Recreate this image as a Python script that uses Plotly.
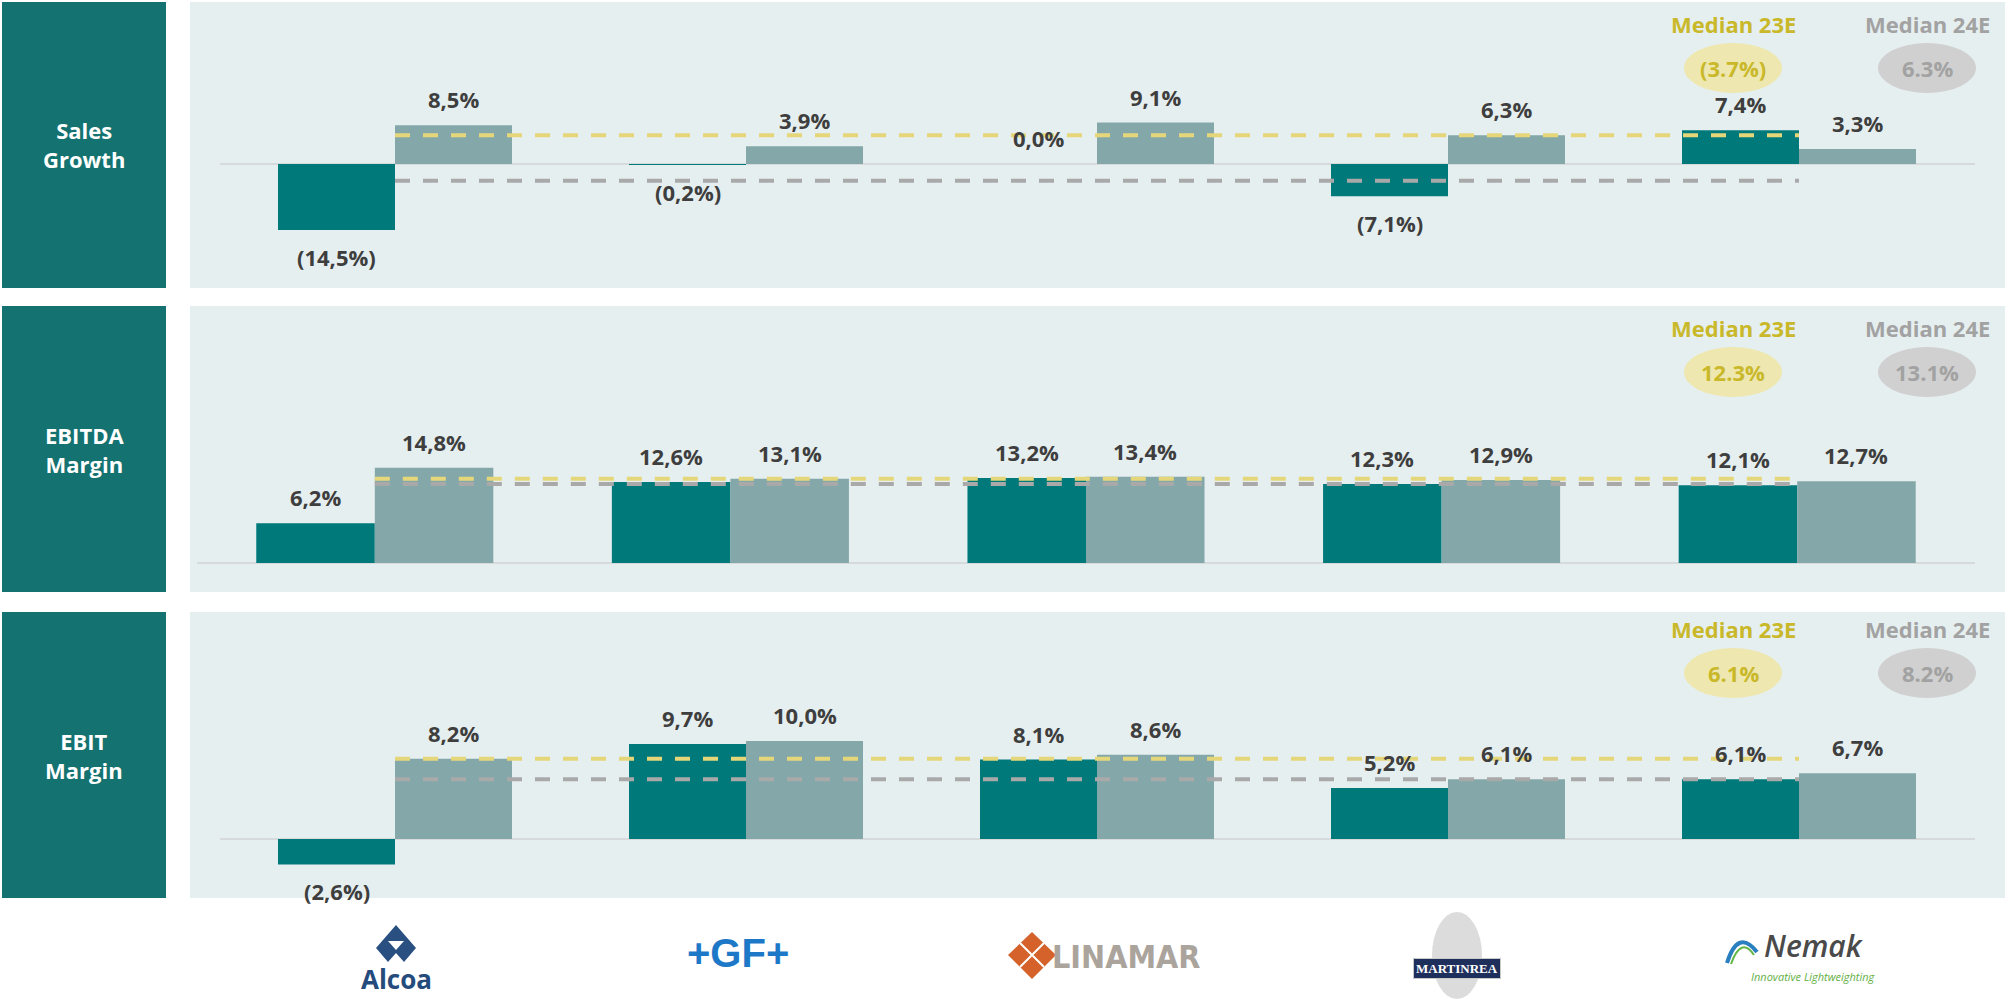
import plotly.graph_objects as go

# ---------------- data ----------------
companies = ["Alcoa", "GF", "Linamar", "Martinrea", "Nemak"]
metrics = ["Sales<br>Growth", "EBITDA<br>Margin", "EBIT<br>Margin"]

sales_23e = [-14.5, -0.2, 0.0, -7.1, 7.4]
sales_24e = [8.5, 3.9, 9.1, 6.3, 3.3]
ebitda_23e = [6.2, 12.6, 13.2, 12.3, 12.1]
ebitda_24e = [14.8, 13.1, 13.4, 12.9, 12.7]
ebit_23e = [-2.6, 9.7, 8.1, 5.2, 6.1]
ebit_24e = [8.2, 10.0, 8.6, 6.1, 6.7]

median_23e = [-3.7, 12.3, 6.1]
median_24e = [6.3, 13.1, 8.2]

series_23e = [sales_23e, ebitda_23e, ebit_23e]
series_24e = [sales_24e, ebitda_24e, ebit_24e]

# ---------------- style / layout ----------------
W, H = 2005, 999
FONT = "Open Sans"
C23 = "#00797A"
C24 = "#84A8AA"
LABEL_BOX = "#147270"
PANEL_BG = "#E6EFF0"
ZERO_COL = "#D6DADA"
YEL_LINE = "#E5D67A"
GRY_LINE = "#A9A9A9"
YEL_TXT = "#C9B82A"
GRY_TXT = "#A2A2A2"
YEL_ELL = "#EEE8B0"
GRY_ELL = "#D0D0D0"
LBL_COL = "#3E3E3E"
BAR_W = 1 / 3

# per row: panel top/bottom (px), plot x extent (px), zero line (px), px per unit, header offset
ROWS = [
    dict(panel=(2, 288), plot_x=(219.5, 1974.5), zero=164, scale=4.55, hdr=22),
    dict(panel=(306, 592), plot_x=(197, 1975), zero=563, scale=6.43, hdr=22),
    dict(panel=(612, 898), plot_x=(219.5, 1974.5), zero=839, scale=9.8, hdr=17),
]


def px(x):
    return x / W


def py(y):
    return 1 - y / H


def fmt(v):
    s = f"{abs(v):.1f}".replace(".", ",") + "%"
    return f"({s})" if v < 0 else s


def fmt_med(v):
    s = f"{abs(v):.1f}%"
    return f"({s})" if v < 0 else s


def note(x, y, text, font, **kw):
    d = dict(xref="paper", yref="paper", x=px(x), y=py(y), text=text, showarrow=False,
             xanchor="center", yanchor="middle", font=font)
    d.update(kw)
    return d


pos = list(range(len(companies)))

fig = go.Figure()
shapes = []
annotations = []
layout_axes = {}

for r, cfg in enumerate(ROWS):
    n = "" if r == 0 else str(r + 1)
    xa, ya = "x" + n, "y" + n
    top, bot = cfg["panel"]

    # panel background + label box
    shapes.append(dict(type="rect", xref="paper", yref="paper", x0=px(190), x1=px(2005),
                       y0=py(bot), y1=py(top), fillcolor=PANEL_BG, line_width=0, layer="below"))
    shapes.append(dict(type="rect", xref="paper", yref="paper", x0=px(2), x1=px(166),
                       y0=py(bot), y1=py(top), fillcolor=LABEL_BOX, line_width=0, layer="below"))
    annotations.append(note(84, (top + bot) / 2, metrics[r],
                            dict(family=FONT, size=22, color="white", weight=700), align="center"))

    v23, v24 = series_23e[r], series_24e[r]
    fig.add_trace(go.Bar(x=pos, y=v23, width=BAR_W, offset=-BAR_W, marker=dict(color=C23, line_width=0),
                         xaxis=xa, yaxis=ya, hoverinfo="skip", showlegend=False))
    fig.add_trace(go.Bar(x=pos, y=v24, width=BAR_W, offset=0, marker=dict(color=C24, line_width=0),
                         xaxis=xa, yaxis=ya, hoverinfo="skip", showlegend=False))
    fig.add_trace(go.Scatter(x=[pos[0], pos[-1]], y=[median_23e[r]] * 2, mode="lines",
                             line=dict(color=GRY_LINE, width=4, dash="15px,13px"),
                             xaxis=xa, yaxis=ya, hoverinfo="skip", showlegend=False))
    fig.add_trace(go.Scatter(x=[pos[0], pos[-1]], y=[median_24e[r]] * 2, mode="lines",
                             line=dict(color=YEL_LINE, width=4, dash="15px,13px"),
                             xaxis=xa, yaxis=ya, hoverinfo="skip", showlegend=False))

    for i in pos:
        for v, dx in ((v23[i], -BAR_W / 2), (v24[i], BAR_W / 2)):
            annotations.append(dict(xref=xa, yref=ya, x=i + dx, y=v, text=fmt(v), showarrow=False,
                                    xanchor="center", yanchor="middle",
                                    yshift=26 if v >= 0 else -27,
                                    font=dict(family=FONT, size=22, color=LBL_COL, weight=700)))

    # median header + ellipses
    hdr_y = top + cfg["hdr"]
    ell_c = hdr_y + 44
    for cx, title, val, tcol, ecol in ((1733, "Median 23E", median_23e[r], YEL_TXT, YEL_ELL),
                                        (1927, "Median 24E", median_24e[r], GRY_TXT, GRY_ELL)):
        annotations.append(note(cx, hdr_y, title, dict(family=FONT, size=22, color=tcol, weight=700)))
        shapes.append(dict(type="circle", xref="paper", yref="paper", x0=px(cx - 49), x1=px(cx + 49),
                           y0=py(ell_c + 25), y1=py(ell_c - 25), fillcolor=ecol, line_width=0, layer="below"))
        annotations.append(note(cx, ell_c, fmt_med(val), dict(family=FONT, size=22, color=tcol, weight=700)))

    x0p, x1p = cfg["plot_x"]
    yr_top = (cfg["zero"] - top) / cfg["scale"]
    yr_bot = -(bot - cfg["zero"]) / cfg["scale"]
    layout_axes["xaxis" + n] = dict(domain=[px(x0p), px(x1p)], range=[-0.5, len(companies) - 0.5],
                                    visible=False, anchor=ya, fixedrange=True)
    layout_axes["yaxis" + n] = dict(domain=[py(bot), py(top)], range=[yr_bot, yr_top], anchor=xa,
                                    showgrid=False, showticklabels=False, ticks="", showline=False,
                                    zeroline=True, zerolinecolor=ZERO_COL, zerolinewidth=2, fixedrange=True)

# ---------------- company "logos" (text renditions) ----------------
# Alcoa
shapes.append(dict(type="path", xref="paper", yref="paper", line_width=0, fillcolor="#2A5082",
                   path=f"M {px(396)},{py(925)} L {px(416)},{py(948)} L {px(404)},{py(962)} "
                        f"L {px(396)},{py(953)} L {px(388)},{py(962)} L {px(376)},{py(948)} Z"))
shapes.append(dict(type="path", xref="paper", yref="paper", line_width=0, fillcolor="white",
                   path=f"M {px(388)},{py(941)} L {px(404)},{py(941)} L {px(396)},{py(950)} Z"))
annotations.append(note(396, 979, "Alcoa", dict(family=FONT, size=26, color="#244B7B", weight=700)))
# GF
annotations.append(note(738, 953, "+GF+", dict(family="Liberation Sans", size=40, color="#1E78C8", weight=700)))
# Linamar
shapes.append(dict(type="path", xref="paper", yref="paper", line_width=0, fillcolor="#D4622A",
                   path=f"M {px(1032)},{py(932)} L {px(1056)},{py(955)} L {px(1032)},{py(979)} "
                        f"L {px(1008)},{py(955)} Z"))
shapes.append(dict(type="path", xref="paper", yref="paper", line=dict(color="white", width=2),
                   path=f"M {px(1020)},{py(943)} L {px(1044)},{py(967)} M {px(1044)},{py(943)} "
                        f"L {px(1020)},{py(967)}"))
annotations.append(note(1126, 957, "LINAMAR",
                        dict(family="Liberation Sans Narrow, DejaVu Sans Condensed, Liberation Sans",
                             size=32, color="#ABA49C", weight=700)))
# Martinrea
shapes.append(dict(type="circle", xref="paper", yref="paper", x0=px(1432), x1=px(1482),
                   y0=py(999), y1=py(912), fillcolor="#DCDCDC", line_width=0))
annotations.append(note(1457, 968, "MARTINREA",
                        dict(family="Liberation Serif", size=13, color="white", weight=700),
                        bgcolor="#1F2F5C", bordercolor="#C8C8C8", borderwidth=1, borderpad=2))
# Nemak
shapes.append(dict(type="path", xref="paper", yref="paper", line=dict(color="#2A7FC0", width=4),
                   path=f"M {px(1727)},{py(963)} Q {px(1738)},{py(928)} {px(1757)},{py(952)}"))
shapes.append(dict(type="path", xref="paper", yref="paper", line=dict(color="#62B547", width=2),
                   path=f"M {px(1731)},{py(964)} Q {px(1741)},{py(936)} {px(1754)},{py(955)}"))
annotations.append(note(1814, 945, "Nemak",
                        dict(family=FONT, size=30, color="#4A4A4A", style="italic", weight=600)))
annotations.append(note(1813, 976, "Innovative Lightweighting",
                        dict(family=FONT, size=11, color="#62B043", style="italic")))

fig.update_layout(
    width=W, height=H, margin=dict(l=0, r=0, t=0, b=0),
    paper_bgcolor="white", plot_bgcolor="rgba(0,0,0,0)",
    barmode="overlay", showlegend=False,
    shapes=shapes, annotations=annotations,
    font=dict(family=FONT),
    **layout_axes,
)

fig.write_html("out.html", config={"displayModeBar": False},
               post_script="document.body.style.margin='0';document.body.style.overflow='hidden';")
